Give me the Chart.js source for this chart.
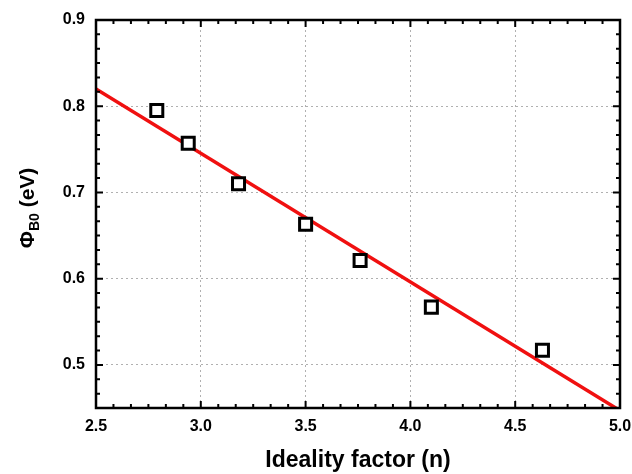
<!DOCTYPE html>
<html>
<head>
<meta charset="utf-8">
<script src="https://cdn.jsdelivr.net/npm/chart.js@4.4.1/dist/chart.umd.min.js"></script>
<style>
  html, body { margin: 0; padding: 0; background: #fff; }
  #wrap { width: 632px; height: 474px; }
</style>
</head>
<body>
<div id="wrap"><canvas id="c" width="632" height="474"></canvas></div>
<script>
'use strict';

/* ── datos ── */
const idealityN = [2.79, 2.94, 3.18, 3.50, 3.76, 4.10, 4.63];
const barrierPhi = [0.795, 0.757, 0.710, 0.663, 0.621, 0.567, 0.517];

/* recta de ajuste (extremos) */
const fitN = [2.5, 5.0];
const fitPhi = [0.820, 0.447];

const xTicks = [2.5, 3.0, 3.5, 4.0, 4.5, 5.0];
const yTicks = [0.5, 0.6, 0.7, 0.8, 0.9];

const FONT = '"Liberation Sans", Arial, sans-serif';

/* marco negro + ticks hacia dentro (mayores y menores) */
const framePlugin = {
  id: 'frame',
  afterDatasetsDraw(chart) {
    const { ctx, chartArea: a, scales: { x, y } } = chart;
    ctx.save();
    ctx.strokeStyle = '#000';
    ctx.lineWidth = 2;
    ctx.beginPath();
    // eje x: 5 menores entre mayores
    for (let i = 0; i < xTicks.length - 1; i++) {
      for (let k = 0; k < 6; k++) {
        const v = xTicks[i] + k * (xTicks[i + 1] - xTicks[i]) / 6;
        const px = x.getPixelForValue(v);
        const len = k === 0 ? 7 : 4;
        ctx.moveTo(px, a.bottom); ctx.lineTo(px, a.bottom - len);
        ctx.moveTo(px, a.top); ctx.lineTo(px, a.top + len);
      }
    }
    // eje y: incluye el tramo 0.45-0.5
    const yMajors = [0.4].concat(yTicks);
    for (let i = 0; i < yMajors.length - 1; i++) {
      for (let k = 0; k < 6; k++) {
        const v = yMajors[i] + k * (yMajors[i + 1] - yMajors[i]) / 6;
        if (v < y.min - 1e-9) continue;
        const py = y.getPixelForValue(v);
        const len = k === 0 ? 7 : 4;
        ctx.moveTo(a.left, py); ctx.lineTo(a.left + len, py);
        ctx.moveTo(a.right, py); ctx.lineTo(a.right - len, py);
      }
    }
    ctx.stroke();
    ctx.lineWidth = 2.5;
    ctx.strokeRect(a.left, a.top, a.right - a.left, a.bottom - a.top);
    ctx.restore();
  },
  afterDraw(chart) {
    // título eje y con subíndice
    const { ctx, chartArea: a } = chart;
    const cy = (a.top + a.bottom) / 2 - 6;
    ctx.save();
    ctx.translate(34, cy);
    ctx.rotate(-Math.PI / 2);
    ctx.fillStyle = '#000';
    ctx.textBaseline = 'alphabetic';
    const big = 'bold 21px ' + FONT;
    const small = 'bold 14px ' + FONT;
    ctx.font = big; const w1 = ctx.measureText('\u03A6').width;
    ctx.font = small; const w2 = ctx.measureText('B0').width;
    ctx.font = big; const w3 = ctx.measureText(' (eV)').width;
    let sx = -(w1 + w2 + w3) / 2;
    ctx.font = big; ctx.fillText('\u03A6', sx, 0); sx += w1;
    ctx.font = small; ctx.fillText('B0', sx, 5); sx += w2;
    ctx.font = big; ctx.fillText(' (eV)', sx, 0);
    ctx.restore();
  }
};

new Chart(document.getElementById('c'), {
  data: {
    datasets: [
      {
        type: 'scatter',
        label: 'data',
        data: idealityN.map((n, i) => ({ x: n, y: barrierPhi[i] })),
        pointStyle: 'rect',
        pointRadius: 8.5,
        pointBorderWidth: 3,
        pointBorderColor: '#000',
        pointBackgroundColor: '#fff',
        order: 0
      },
      {
        type: 'line',
        label: 'fit',
        data: fitN.map((n, i) => ({ x: n, y: fitPhi[i] })),
        borderColor: '#f01010',
        borderWidth: 3.5,
        pointRadius: 0,
        fill: false,
        order: 1
      }
    ]
  },
  options: {
    responsive: false,
    animation: false,
    layout: { padding: { top: 20, right: 12, left: 0, bottom: 0 } },
    plugins: { legend: { display: false }, tooltip: { enabled: false } },
    scales: {
      x: {
        type: 'linear',
        min: 2.5, max: 5.0,
        afterBuildTicks(s) { s.ticks = xTicks.map(v => ({ value: v })); },
        afterFit(s) { s.height = 66; s.paddingRight = 0; s.paddingLeft = 0; },
        border: { display: false, dash: [2, 3] },
        grid: { color: '#b0b0b0', lineWidth: 1, drawTicks: false },
        ticks: {
          padding: 9,
          color: '#000',
          font: { family: FONT, size: 16, weight: 'bold' },
          callback: v => v.toFixed(1)
        },
        title: {
          display: true,
          text: 'Ideality factor (n)',
          color: '#000',
          font: { family: FONT, size: 23, weight: 'bold' },
          padding: { top: 12, bottom: 0 }
        }
      },
      y: {
        type: 'linear',
        min: 0.45, max: 0.9,
        afterBuildTicks(s) { s.ticks = yTicks.map(v => ({ value: v })); },
        afterFit(s) { s.width = 96; s.paddingTop = 0; s.paddingBottom = 0; },
        border: { display: false, dash: [2, 3] },
        grid: { color: '#b0b0b0', lineWidth: 1, drawTicks: false },
        ticks: {
          padding: 11,
          color: '#000',
          font: { family: FONT, size: 16, weight: 'bold' },
          callback: v => v.toFixed(1)
        }
      }
    }
  },
  plugins: [framePlugin]
});
</script>
</body>
</html>
